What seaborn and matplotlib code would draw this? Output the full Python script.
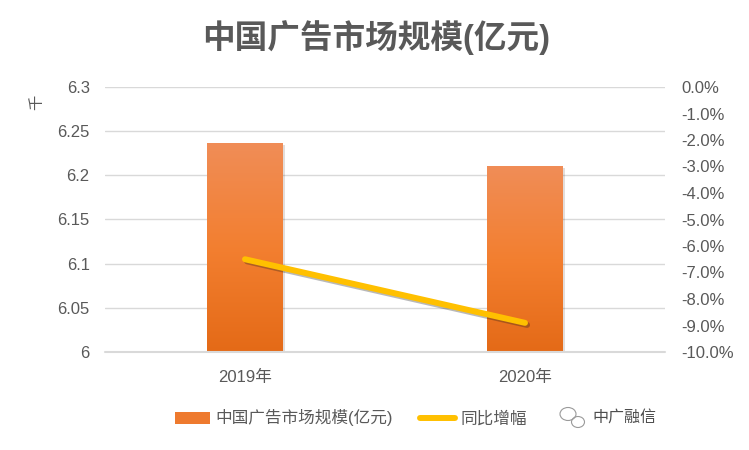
import numpy as np
import matplotlib
matplotlib.use("Agg")
import matplotlib.pyplot as plt
import matplotlib.patheffects as pe
from matplotlib.patches import Patch, Ellipse
from matplotlib.lines import Line2D
from matplotlib.ticker import FuncFormatter, MultipleLocator
import seaborn as sns

# data
years = ["2019年", "2020年"]
market_size = [6.236, 6.21]        # 千亿元
yoy_growth = [-0.065, -0.089]      # 同比增幅

BAR_TOP = "#F08D57"
BAR_BOTTOM = "#E46A17"
LINE_COLOR = "#FFC000"
TEXT_COLOR = "#595959"
GRID_COLOR = "#D9D9D9"
Y_MIN, Y_MAX = 6.0, 6.3

sns.set_theme(style="white")
plt.rcParams['font.family'] = ['Liberation Sans', 'Noto Sans CJK SC', 'DejaVu Sans']

fig = plt.figure(figsize=(7.49, 4.5), dpi=100)
ax = fig.add_axes([105 / 749, 98 / 450, 560 / 749, 265 / 450])

sns.barplot(x=years, y=market_size, ax=ax, color=BAR_BOTTOM, width=0.27,
            saturation=1, zorder=2)
ax.set_ylim(Y_MIN, Y_MAX)
ax.set_xlim(-0.5, 1.5)
ax.yaxis.set_major_locator(MultipleLocator(0.05))
ax.yaxis.set_major_formatter(FuncFormatter(lambda v, p: f"{v:g}"))
ax.grid(axis="y", color=GRID_COLOR, linewidth=1.0, zorder=0)
ax.set_axisbelow(True)
for s in ax.spines.values():
    s.set_visible(False)
ax.tick_params(axis="y", length=0, pad=11, labelsize=12, labelcolor=TEXT_COLOR)
ax.tick_params(axis="x", length=0, pad=13, labelsize=12, labelcolor=TEXT_COLOR)
ax.set_xlabel("")
ax.set_ylabel("")

# vertical gradient fill on each bar (only the visible part)
grad = np.linspace(0, 1, 256).reshape(-1, 1)
cmap = matplotlib.colors.LinearSegmentedColormap.from_list(
    "bar", [BAR_BOTTOM, "#F37F30", BAR_TOP])
for patch in list(ax.patches):
    x0, w = patch.get_x(), patch.get_width()
    top = patch.get_y() + patch.get_height()
    patch.set_edgecolor("none")
    patch.set_path_effects([pe.SimplePatchShadow(offset=(1.5, -1.0), alpha=0.15),
                            pe.Normal()])
    ax.imshow(grad, cmap=cmap, aspect="auto", origin="lower",
              extent=(x0, x0 + w, Y_MIN, top), zorder=3)
ax.axhline(Y_MIN, color=GRID_COLOR, linewidth=1.5, zorder=4, clip_on=False)
ax.set_xlim(-0.5, 1.5)
ax.set_ylim(Y_MIN, Y_MAX)

# growth line on the right axis
ax2 = ax.twinx()
sns.lineplot(x=[0, 1], y=yoy_growth, ax=ax2, color=LINE_COLOR, linewidth=4.3,
             solid_capstyle="round", sort=False,
             path_effects=[pe.SimpleLineShadow(offset=(1.5, -1.5), alpha=0.3),
                           pe.Normal()])
ax2.set_ylim(-0.10, 0.0)
ax2.yaxis.set_major_locator(MultipleLocator(0.01))
ax2.yaxis.set_major_formatter(FuncFormatter(lambda v, p: f"{v * 100:.1f}%"))
for s in ax2.spines.values():
    s.set_visible(False)
ax2.tick_params(axis="y", length=0, pad=12, labelsize=12, labelcolor=TEXT_COLOR)
ax2.set_ylabel("")
ax2.grid(False)

# titles and unit
fig.text(376 / 749, 1 - 38 / 450, "中国广告市场规模(亿元)", ha="center", va="center",
         fontsize=23.5, fontweight="bold", color=TEXT_COLOR)
fig.text(37 / 749, 1 - 102 / 450, "千", ha="center", va="center", rotation=90,
         fontsize=11, color=TEXT_COLOR)

# legend
handles = [Patch(facecolor="#EE7A2E", edgecolor="none"),
           Line2D([0], [0], color=LINE_COLOR, linewidth=4.3, solid_capstyle="round")]
fig.legend(handles, ["中国广告市场规模(亿元)", "同比增幅"], loc="center",
           bbox_to_anchor=(351 / 749, 1 - 418 / 450), ncol=2, frameon=False,
           fontsize=12, labelcolor=TEXT_COLOR, handlelength=2.1,
           handletextpad=0.35, columnspacing=1.6)

# watermark
fig.text(592 / 749, 1 - 418 / 450, "中广融信", ha="left", va="center",
         fontsize=11.5, color="#4D4D4D")
fig.patches.append(Ellipse((568 / 749, 1 - 414 / 450), 16 / 749, 13 / 450,
                           transform=fig.transFigure, fill=False,
                           edgecolor="#9A9A9A", linewidth=0.8))
fig.patches.append(Ellipse((578 / 749, 1 - 422 / 450), 13 / 749, 11 / 450,
                           transform=fig.transFigure, fill=False,
                           edgecolor="#9A9A9A", linewidth=0.8))

fig.savefig("out.png", dpi=100, facecolor="white")
